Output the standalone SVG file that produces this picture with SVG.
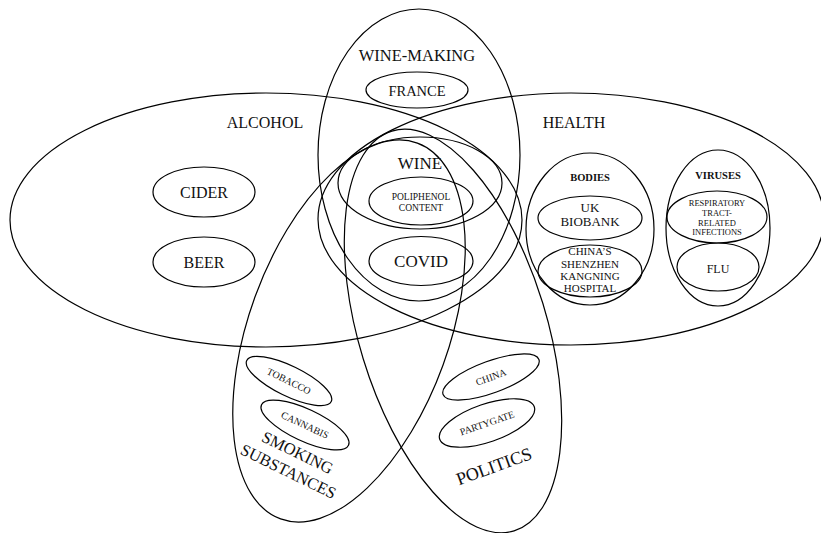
<svg xmlns="http://www.w3.org/2000/svg" width="821" height="533" viewBox="0 0 821 533">
<style>
.o{fill:none;stroke:#000;stroke-width:1.2}
text{font-family:"Liberation Serif","Times New Roman",serif;fill:#111;text-anchor:middle}
.b{font-weight:bold}
</style>
<rect width="821" height="533" fill="#fff"/>
<g id="alcohol"><ellipse class="o" cx="266" cy="220" rx="256" ry="127"/><text x="265" y="128" font-size="16">ALCOHOL</text></g>
<g id="health"><ellipse class="o" cx="571" cy="219" rx="253" ry="126"/><text x="574" y="128" font-size="16">HEALTH</text></g>
<g id="winemaking"><ellipse class="o" cx="419" cy="155" rx="101" ry="146"/><text x="417" y="61" font-size="16.5">WINE-MAKING</text></g>
<g id="smoking"><ellipse class="o" cx="0" cy="0" rx="100" ry="200" transform="translate(349,331) rotate(20)"/>
<g transform="translate(293,462) rotate(26)"><text x="0" y="-5" font-size="16.5">SMOKING</text><text x="0" y="16" font-size="16.5">SUBSTANCES</text></g></g>
<g id="politics"><ellipse class="o" cx="0" cy="0" rx="94" ry="209" transform="translate(453,331) rotate(-17)"/>
<text transform="translate(496,472) rotate(-20)" font-size="18">POLITICS</text></g>
<g id="france"><ellipse class="o" cx="417" cy="90" rx="51" ry="18"/><text x="417" y="96" font-size="14.5">FRANCE</text></g>
<g id="cider"><ellipse class="o" cx="204" cy="192" rx="51" ry="25"/><text x="204" y="198" font-size="16">CIDER</text></g>
<g id="beer"><ellipse class="o" cx="204" cy="262" rx="51" ry="25"/><text x="204" y="268" font-size="16">BEER</text></g>
<g id="wine"><ellipse class="o" cx="420" cy="183" rx="82" ry="46"/><text x="420" y="169" font-size="17">WINE</text></g>
<g id="poliphenol"><ellipse class="o" cx="421" cy="201" rx="52" ry="24"/><text x="421" y="200" font-size="9.5">POLIPHENOL</text><text x="421" y="211" font-size="9.5">CONTENT</text></g>
<g id="covid"><ellipse class="o" cx="421" cy="261" rx="52" ry="24.5"/><text x="421" y="267" font-size="17">COVID</text></g>
<g id="bodies"><ellipse class="o" cx="590" cy="229" rx="64" ry="76"/><text class="b" x="590" y="181" font-size="10.5">BODIES</text></g>
<g id="ukbiobank"><ellipse class="o" cx="590" cy="218" rx="52" ry="22"/><text x="590" y="212" font-size="13">UK</text><text x="590" y="226" font-size="13">BIOBANK</text></g>
<g id="kangning"><ellipse class="o" cx="590" cy="271" rx="52" ry="26"/><text x="590" y="255" font-size="11">CHINA’S</text><text x="590" y="268" font-size="11">SHENZHEN</text><text x="590" y="280" font-size="11">KANGNING</text><text x="590" y="292" font-size="11">HOSPITAL</text></g>
<g id="viruses"><ellipse class="o" cx="718" cy="228" rx="52" ry="78"/><text class="b" x="718" y="179" font-size="10.5">VIRUSES</text></g>
<g id="respiratory"><ellipse class="o" cx="717" cy="217" rx="50" ry="26"/><text x="717" y="206" font-size="8.5">RESPIRATORY</text><text x="717" y="216" font-size="8.5">TRACT-</text><text x="717" y="226" font-size="8.5">RELATED</text><text x="717" y="235" font-size="8.5">INFECTIONS</text></g>
<g id="flu"><ellipse class="o" cx="718" cy="267" rx="41" ry="24"/><text x="718" y="273" font-size="12">FLU</text></g>
<g id="tobacco" transform="translate(289,381) rotate(26)"><ellipse class="o" cx="0" cy="0" rx="47" ry="15"/><text x="0" y="3.5" font-size="10">TOBACCO</text></g>
<g id="cannabis" transform="translate(305,425) rotate(25)"><ellipse class="o" cx="0" cy="0" rx="48" ry="16"/><text x="0" y="3.5" font-size="10">CANNABIS</text></g>
<g id="china" transform="translate(491,377) rotate(-20)"><ellipse class="o" cx="0" cy="0" rx="51" ry="16"/><text x="0" y="3.5" font-size="10">CHINA</text></g>
<g id="partygate" transform="translate(487,423) rotate(-19)"><ellipse class="o" cx="0" cy="0" rx="50" ry="19"/><text x="0" y="3.5" font-size="10">PARTYGATE</text></g>
</svg>
